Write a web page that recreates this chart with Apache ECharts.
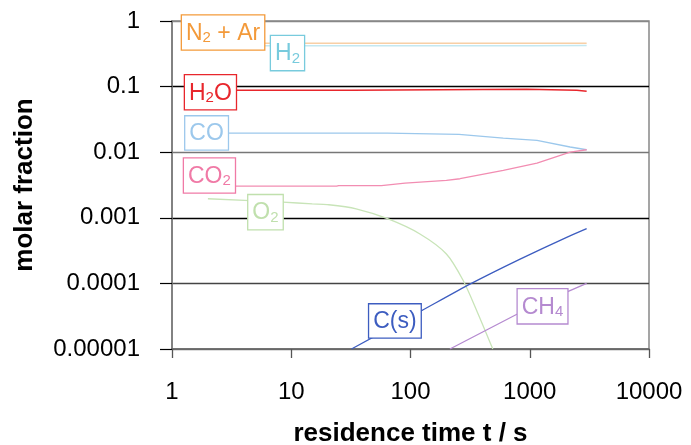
<!DOCTYPE html>
<html>
<head>
<meta charset="utf-8">
<script src="https://cdn.jsdelivr.net/npm/echarts@6/dist/echarts.min.js"></script>
<style>html,body{margin:0;padding:0;background:#fff;}#c{width:691px;height:445px;}</style>
</head>
<body>
<div id="c"></div>
<script>
// residence time t [s] vs molar fraction
const xTickLabels = ['1', '10', '100', '1000', '10000'];
const yTickLabels = ['0.00001', '0.0001', '0.001', '0.01', '0.1', '1'];

const n2Ar = [[2, 0.457], [3000, 0.457]];
const h2 = [[2, 0.42], [1100, 0.42], [3000, 0.425]];
const h2o = [[2, 0.088], [32, 0.088], [33, 0.091], [940, 0.091], [950, 0.088], [2480, 0.088], [2500, 0.085], [3000, 0.085]];
const co = [[2, 0.0196], [64, 0.0196], [66, 0.0187], [255, 0.0187], [262, 0.0175], [600, 0.0164], [1150, 0.0151], [2180, 0.0120], [3000, 0.0109]];
const co2 = [[2, 0.00303], [24, 0.00303], [25, 0.0031], [57, 0.0031], [58, 0.0033], [90, 0.00337], [200, 0.00371], [260, 0.00394], [600, 0.00527], [1150, 0.00681], [2180, 0.01004], [3000, 0.0109]];
const o2 = [[2, 0.00195], [8.5, 0.00173], [15, 0.00163], [20, 0.00159], [35, 0.00137], [65, 0.00096], [120, 0.000567], [200, 0.000281], [277, 0.00011], [360, 0.0000381], [490, 0.00001]];
const cs = [[32, 0.00001], [123, 0.0000381], [315, 0.0000975], [830, 0.000235], [2040, 0.000504], [3000, 0.000684]];
const ch4 = [[214, 0.00001], [780, 0.0000339], [2080, 0.000075], [3000, 0.0001]];

const FONT = '"Liberation Sans", Arial, Helvetica, sans-serif';

function tag(text, color, coord) {
  return {
    symbol: 'rect',
    symbolSize: 0.1,
    silent: true,
    data: [{ coord: coord }],
    label: {
      show: true,
      position: 'inside',
      formatter: text,
      color: color,
      fontFamily: FONT,
      fontSize: 23,
      backgroundColor: '#fff',
      borderColor: color,
      borderWidth: 1.3,
      padding: [6, 4, 4, 4],
      rich: {
        s: { fontSize: 15, color: color, fontFamily: FONT, verticalAlign: 'bottom', padding: [9, 0, 0, 0] }
      }
    }
  };
}

function line(name, data, color, width, textColor, text, coord, smooth) {
  return {
    name: name,
    type: 'line',
    data: data,
    showSymbol: false,
    symbol: 'none',
    smooth: smooth || false,
    clip: true,
    lineStyle: { color: color, width: width },
    markPoint: tag(text, textColor, coord)
  };
}

const chart = echarts.init(document.getElementById('c'), null, { renderer: 'canvas' });
chart.setOption({
  animation: false,
  backgroundColor: '#fff',
  grid: { left: 172, right: 42, top: 21, bottom: 96, outerBoundsMode: 'none', containLabel: false, show: true, borderColor: '#888', borderWidth: 1.5, backgroundColor: 'transparent' },
  xAxis: {
    type: 'log', logBase: 10, min: 1, max: 10000,
    name: 'residence time t / s', nameLocation: 'middle', nameGap: 72,
    nameTextStyle: { fontFamily: FONT, fontSize: 26, fontWeight: 'bold', color: '#000' },
    axisLine: { show: true, lineStyle: { color: '#666', width: 1.5 } },
    axisTick: { show: true, length: 9, lineStyle: { color: '#555', width: 1.3 } },
    minorTick: { show: false },
    splitLine: { show: false },
    axisLabel: {
      margin: 31, fontFamily: FONT, fontSize: 24, color: '#000',
      formatter: v => xTickLabels[Math.round(Math.log10(v))]
    }
  },
  yAxis: {
    type: 'log', logBase: 10, min: 0.00001, max: 1,
    name: 'molar fraction', nameLocation: 'middle', nameGap: 134, nameRotate: 90,
    nameTextStyle: { fontFamily: FONT, fontSize: 26, fontWeight: 'bold', color: '#000' },
    axisLine: { show: true, lineStyle: { color: '#777', width: 1.5 } },
    axisTick: { show: true, length: 12, lineStyle: { color: '#000', width: 1.2 } },
    splitLine: { show: true, lineStyle: { color: ['#777', '#444', '#000', '#777', '#000', '#888'], width: 1.3 } },
    axisLabel: {
      margin: 32, fontFamily: FONT, fontSize: 24, color: '#000',
      formatter: v => yTickLabels[Math.round(Math.log10(v)) + 5]
    }
  },
  series: [
    line('N2 + Ar', n2Ar, '#f8cfa6', 1.5, '#f39a3a', 'N{s|2} + Ar', [2.68, 0.667]),
    line('H2', h2, '#c4e8f1', 1.5, '#78cbdd', 'H{s|2}', [9.3, 0.324]),
    line('H2O', h2o, '#e8262c', 1.5, '#e8262c', 'H{s|2}O', [2.1, 0.082]),
    line('CO', co, '#9cc8ec', 1.3, '#9cc8ec', 'CO', [1.95, 0.0197]),
    line('CO2', co2, '#f28db2', 1.3, '#f07aa6', 'CO{s|2}', [2.06, 0.00442]),
    line('O2', o2, '#c8e4b8', 1.3, '#c0e0ad', 'O{s|2}', [6.08, 0.00122], 0.3),
    line('C(s)', cs, '#3d5dc0', 1.3, '#3d5dc0', 'C(s)', [74, 0.0000268], 0.2),
    line('CH4', ch4, '#b58ad0', 1.3, '#b58ad0', 'CH{s|4}', [1280, 0.0000447])
  ]
});
</script>
</body>
</html>
